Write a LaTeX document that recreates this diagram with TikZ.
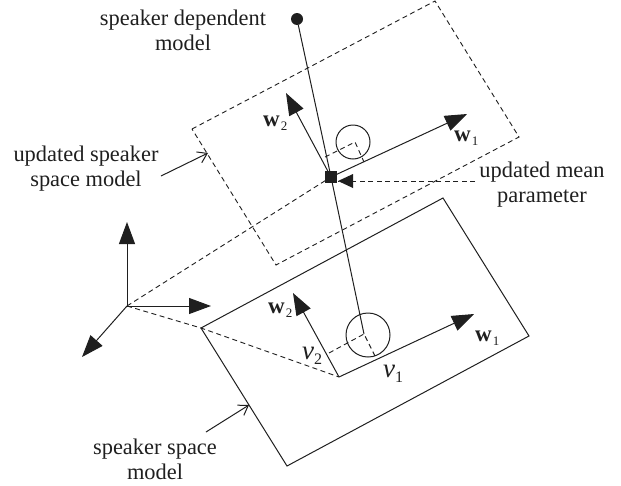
\documentclass[tikz,border=0pt]{standalone}
\usepackage{fontspec}
\setmainfont{Liberation Serif}
\usetikzlibrary{arrows.meta}
\definecolor{ink}{gray}{0.12}
\tikzset{
  every node/.style={text=ink},
  lab/.style={font=\fontsize{22.4}{25}\selectfont,align=center,inner sep=0pt},
  wlab/.style={font=\fontsize{23}{24}\selectfont,inner sep=0pt,anchor=base west},
  vlab/.style={font=\fontsize{27}{28}\selectfont\itshape,inner sep=0pt,anchor=base west},
  solidl/.style={draw=ink,line width=1pt},
  dashl/.style={draw=ink,line width=0.9pt,dash pattern=on 5pt off 3.5pt},
  bigarrow/.style={solidl,-{Triangle[length=22pt,width=16pt]}},
  barb/.style={solidl,-{Straight Barb[length=9pt,width=12pt,line width=1pt]}},
}
\newcommand{\wsub}[1]{\textbf{w}\raisebox{-4.5pt}{\kern1pt\fontsize{13}{13}\selectfont #1}}
\newcommand{\vsub}[1]{ν\raisebox{-5pt}{\upshape\fontsize{16}{16}\selectfont #1}}
\begin{document}
\begin{tikzpicture}[x=1pt,y=-1pt]
\useasboundingbox (0,0) rectangle (621,485);
% origin
\coordinate (o) at (127,306);
\coordinate (oz) at (127,222);
\coordinate (ox) at (211,306);
\coordinate (oy) at (82,357);
% updated rectangle
\coordinate (ua) at (192,129);
\coordinate (ub) at (435,1);
\coordinate (uc) at (519,137);
\coordinate (ud) at (276,265);
% lower rectangle
\coordinate (la) at (201,328);
\coordinate (lb) at (443,198);
\coordinate (lc) at (529,336);
\coordinate (ld) at (287,466);
% frames
\coordinate (lo) at (339,377);
\coordinate (lw1) at (474,314);
\coordinate (lw2) at (293,293);
\coordinate (lp) at (364,334);
\coordinate (lpa) at (329,353);
\coordinate (lpb) at (376,358);
\coordinate (uw1) at (467,114);
\coordinate (uw2) at (286,93);
\coordinate (up) at (355,142);
\coordinate (upa) at (325,157);
\coordinate (upb) at (364,162);
\node[circle,fill=ink,minimum size=12pt,inner sep=0pt] (dot) at (297,19) {};
\node[rectangle,fill=ink,minimum size=12pt,inner sep=0pt] (sq) at (331,177) {};
\node[circle,solidl,minimum size=44pt,inner sep=0pt] (lcirc) at (368,335) {};
\node[circle,solidl,minimum size=34pt,inner sep=0pt] (ucirc) at (353,142) {};
% shapes
\draw[solidl] (la) -- (lb) -- (lc) -- (ld) -- cycle;
\draw[dashl] (ua) -- (ub) -- (uc) -- (ud) -- cycle;
\draw[dashl] (o) -- (sq.center);
\draw[dashl] (o) -- (la) -- (lo);
\draw[dashl] (lpa) -- (lp) -- (lpb);
\draw[dashl] (upa) -- (up) -- (upb);
\draw[solidl] (dot) -- (sq.center) -- (lp);
% axes
\draw[bigarrow] (o) -- (oz);
\draw[bigarrow] (o) -- (ox);
\draw[bigarrow] (o) -- (oy);
\draw[bigarrow] (lo) -- (lw1);
\draw[bigarrow] (lo) -- (lw2);
\draw[bigarrow] (sq.center) -- (uw1);
\draw[bigarrow] (sq.center) -- (uw2);
% labels
\node[lab] (t1) at (183,30) {speaker dependent\\model};
\node[lab] (t2) at (86,169) {updated speaker\\space model};
\node[lab] (t3) at (542,185) {updated mean\\parameter};
\node[lab] (t4) at (155,459) {speaker space\\model};
\node[wlab] (w1) at (454,141) {\wsub{1}};
\node[wlab] (w2) at (263,126) {\wsub{2}};
\node[wlab] (w3) at (475,341) {\wsub{1}};
\node[wlab] (w4) at (268,313) {\wsub{2}};
\node[vlab] (v1) at (383,377) {\vsub{1}};
\node[vlab] (v2) at (302,359) {\vsub{2}};
% pointers
\coordinate (p1) at (161,176);
\coordinate (p1e) at (208,153);
\coordinate (p2) at (206,432);
\coordinate (p2e) at (249,405);
\coordinate (p3) at (475,181);
\coordinate (p3e) at (338,181);
\draw[barb] (p1) -- (p1e);
\draw[barb] (p2) -- (p2e);
\draw[dashl] (p3) -- (p3e);
\fill[ink] (p3e) -- ++(15,-7) -- ++(0,14) -- cycle;
\end{tikzpicture}
\end{document}
